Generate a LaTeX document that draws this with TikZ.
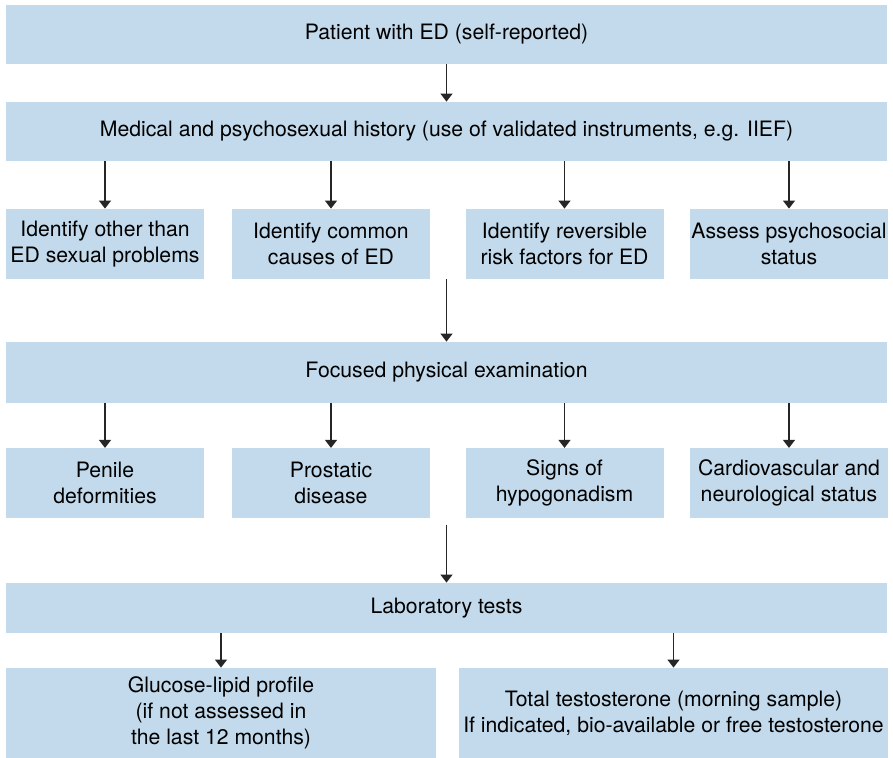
\documentclass[tikz,border=0pt]{standalone}
\usepackage{fontspec}
\setmainfont{TeX Gyre Heros}
\usepackage{tikz}
\usetikzlibrary{arrows.meta,positioning}
\usepackage{xcolor}
\definecolor{boxblue}{RGB}{194,218,235}

\begin{document}
\begin{tikzpicture}[
      x=0.5pt, y=-0.5pt,
      box/.style={fill=boxblue, inner sep=0pt, align=center,
        font=\fontsize{10.6}{13}\selectfont},
      wide/.style={box, minimum width=440.5pt, minimum height=29.5pt},
      small/.style={box, minimum width=99pt, minimum height=35pt},
      link/.style={-{Triangle[width=6pt,length=4pt]}, line width=0.65pt, black!85}
    ]
    \useasboundingbox (0,0) rectangle (893,758);
    % Main column
    \node[wide] (patient) at (446.5,34.5) {Patient with ED (self-reported)};
    \node[wide] (history) at (446.5,131.5)
      {Medical and psychosexual history (use of validated instruments, e.g. IIEF)};
    \node[wide, minimum height=30.5pt] (exam) at (446.5,372.5) {Focused physical examination};
    \node[wide, minimum height=25pt] (labs) at (446.5,608) {Laboratory tests};
    % History findings
    \foreach \i/\x/\txt in {1/105/{Identify other than\\ED sexual problems},
                            2/331/{Identify common\\causes of ED},
                            3/564.5/{Identify reversible\\risk factors for ED},
                            4/789/{Assess psychosocial\\status}}{
      \node[small] (h\i) at (\x,244) {\txt};
      \draw[link] (h\i |- history.south) -- (h\i.north);
    }
    % Examination findings
    \foreach \i/\x/\txt in {1/105/{Penile\\deformities},
                            2/331/{Prostatic\\disease},
                            3/564.5/{Signs of\\hypogonadism},
                            4/789/{Cardiovascular and\\neurological status}}{
      \node[small] (e\i) at (\x,483.3) {\txt};
      \draw[link] (e\i |- exam.south) -- (e\i.north);
    }
    % Laboratory tests
    \node[box, minimum width=215pt, minimum height=45pt] (glucose) at (221,713)
      {Glucose-lipid profile\\(if not assessed in\\the last 12 months)};
    \node[box, minimum width=214.5pt, minimum height=45pt] (testo) at (673.5,713)
      {Total testosterone (morning sample)\\If indicated, bio-available or free testosterone};
    % Main flow
    \draw[link] (patient) -- (history);
    \draw[link] (history.south |- h2.south) -- (exam);
    \draw[link] (exam.south |- e2.south) ++(0,6) -- (labs);
    \draw[link] (glucose |- labs.south) -- (glucose);
    \draw[link] (testo |- labs.south) -- (testo);
  \end{tikzpicture}
\end{document}
